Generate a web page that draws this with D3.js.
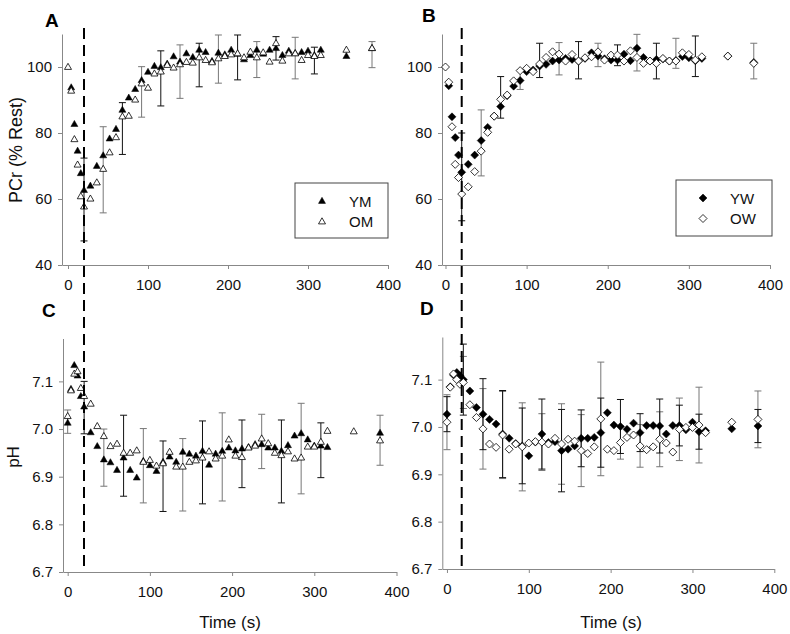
<!DOCTYPE html>
<html><head><meta charset="utf-8">
<script src="https://cdn.jsdelivr.net/npm/d3@7"></script>
<style>body{margin:0;background:#fff}svg{display:block}</style>
</head><body><svg id="chart" width="790" height="634"></svg>
<script>
// ---------- DATA ----------
const T = [0,4,8,12,16,20,28,36,44,52,60,68,76,84,92,100,108,116,124,132,140,148,156,164,172,180,188,196,204,212,220,228,236,244,252,260,268,276,284,292,300,308,316,348,380];
const timeTicks = [0,100,200,300,400];
const pcrTicks = [40,60,80,100];
const phTicks = [6.7,6.8,6.9,7.0,7.1];

const pcrYM = [null,93.8,82.7,74.6,67.8,62.7,64.0,70.0,73.2,78.3,81.2,87.0,90.7,93.3,96.0,98.5,100.3,99.9,101.0,103.2,101.6,104.1,103.0,105.2,104.5,101.8,104.3,103.8,105.2,104.0,102.3,103.6,105.2,104.0,105.2,105.7,103.6,104.9,104.2,104.5,104.9,103.6,105.2,103.3,105.7];
const pcrOM = [100,92.8,78.1,70.4,60.8,57.7,60.1,65.0,69.1,74.1,78.7,85.0,85.2,90.1,95.0,93.7,98.0,98.6,100.6,99.8,100.8,101.5,101.3,102.9,102.1,101.4,102.6,103.3,103.8,104.1,102.9,104.6,102.9,104.4,101.6,107.2,101.9,104.1,104.1,102.1,103.6,103.3,103.6,105.2,105.7];
const pcrYW = [null,94.3,84.9,78.6,73.3,68.1,70.5,73.3,77.7,81.7,85.1,88.0,91.3,94.2,95.9,98.6,99.1,100.3,100.8,101.8,102.1,102.6,102.3,101.8,102.6,104.3,103.3,102.5,102.1,102.1,103.9,101.9,105.7,102.9,101.8,102.3,102.4,101.8,102.0,103.2,102.8,101.9,102.6,103.3,101.4];
const pcrOW = [100,95.4,81.9,70.5,66.5,61.5,63.7,68.3,74.5,80.2,85.1,90.2,91.5,95.8,98.9,99.6,98.6,100.9,102.9,104.6,103.9,101.8,103.8,101.8,102.8,103.1,104.6,102.1,103.6,103.6,101.8,104.9,102.9,101.1,101.8,101.1,102.6,101.8,101.8,104.3,103.8,102.1,103.1,103.3,101.1];
const phYM = [7.013,7.084,7.134,7.112,7.069,7.047,6.993,6.964,6.936,6.930,6.914,6.940,6.914,6.898,6.933,6.924,6.912,6.931,6.942,6.931,6.952,6.948,6.944,6.954,6.925,6.948,6.954,6.961,6.955,6.959,6.962,6.968,6.968,6.961,6.961,6.954,6.966,6.986,6.991,6.978,6.965,6.965,6.962,null,6.992];
const phOM = [7.027,7.081,7.116,7.121,7.086,7.069,7.053,7.006,6.985,6.964,6.969,6.950,6.950,6.955,6.931,6.935,6.923,6.928,6.952,6.921,6.921,6.931,6.934,6.940,6.953,6.938,6.944,6.978,6.944,6.941,6.961,6.965,6.980,6.970,6.950,6.945,6.953,6.938,6.940,6.963,6.963,6.973,6.996,6.995,6.976];
const phYW = [7.027,7.085,7.110,7.115,7.108,7.100,7.076,7.041,7.027,7.016,7.006,6.985,6.976,6.965,6.960,6.939,6.968,6.985,6.967,6.969,6.950,6.953,6.960,6.976,6.976,6.978,6.988,7.030,7.004,7.001,6.995,7.008,6.988,7.003,7.003,7.002,6.985,7.003,7.003,6.994,7.010,6.990,6.992,6.996,7.002];
const phOW = [7.010,7.084,7.112,7.100,7.090,7.094,7.047,7.020,6.996,6.964,6.957,6.983,6.953,6.964,6.958,6.966,6.969,6.968,6.964,6.976,6.964,6.974,6.970,6.950,6.944,6.958,7.017,6.953,6.950,6.967,6.978,6.983,6.960,6.952,6.958,6.974,6.966,6.947,6.995,6.999,6.999,7.004,6.988,7.010,7.016];

// error bars (panels A, B, C: one bar per time, low/high ends)
const errT_AB = [20,44,68,92,116,140,164,188,212,236,260,284,308,380];
const errA_lo = [47.3,55.8,73.5,84.8,88.2,90.5,94.0,95.1,96.1,96.8,102.1,96.4,97.9,99.8];
const errA_hi = [72.4,81.9,89.2,100.1,104.9,106.7,107.2,109.7,109.7,107.7,109.2,109.0,106.0,107.7];
const errB_lo = [53.4,67.0,84.5,93.2,96.8,97.6,96.4,100.1,100.4,98.8,96.4,99.6,97.1,96.4];
const errB_hi = [80.0,87.0,97.1,99.1,107.2,107.4,107.7,107.2,106.7,109.9,107.2,108.7,109.4,107.2];
const errT_CD = [0,20,44,68,92,116,140,164,188,212,236,260,284,308,380];
const errC_lo = [6.991,6.990,6.880,6.859,6.845,6.827,6.828,6.843,6.849,6.877,6.917,6.845,6.864,6.898,6.924];
const errC_hi = [7.040,7.100,7.000,7.029,7.001,6.975,6.980,7.017,7.034,7.019,7.031,7.019,7.054,7.013,7.029];
// panel D: symmetric SD bars for each group
const sdYW_D = [0.037,0.075,0.075,0.092,0.080,0.074,0.087,0.060,0.073,0.057,0.040,0.057,0.043,0.037,0.035];
const sdOW_D = [0.058,0.055,0.085,0.092,0.093,0.060,0.085,0.076,0.120,0.035,0.045,0.058,0.066,0.080,0.060];

const exerciseEnd = 20;

// ---------- DRAWING ----------
const F = 'Arial, "Liberation Sans", sans-serif';
const svg = d3.select("#chart");
const TRI = "M0,-3.7L3.5,2.4L-3.5,2.4Z";
const DIA = "M0,-4L4,0L0,4L-4,0Z";

function panel(o) {
  const x = d3.scaleLinear().domain(o.xd).range(o.xr);
  const y = d3.scaleLinear().domain(o.yd).range(o.yr);
  const g = svg.append("g");
  const ax = g.append("g").attr("transform", `translate(0,${o.yr[0]})`)
    .call(d3.axisBottom(x).tickValues(timeTicks).tickSize(4).tickSizeOuter(0).tickPadding(10));
  const ay = g.append("g").attr("transform", `translate(${o.xr[0]},0)`)
    .call(d3.axisLeft(y).tickValues(o.yticks).tickFormat(o.fmt).tickSize(4).tickSizeOuter(0).tickPadding(6));
  [ax, ay].forEach(a => {
    a.select(".domain").attr("stroke", "#888");
    a.selectAll(".tick line").attr("stroke", "#888");
    a.selectAll("text").attr("font-size", 15).attr("font-family", F).attr("fill", "#111");
  });
  return { x, y, g };
}

function bar(p, t, lo, hi, color) {
  const xp = p.x(t), y1 = p.y(lo), y2 = p.y(hi);
  p.g.append("line").attr("x1", xp).attr("x2", xp).attr("y1", y1).attr("y2", y2)
    .attr("stroke", color).attr("stroke-width", 1);
  [y1, y2].forEach(yy => p.g.append("line").attr("x1", xp - 3.5).attr("x2", xp + 3.5)
    .attr("y1", yy).attr("y2", yy).attr("stroke", color).attr("stroke-width", 1));
}

function points(p, vals, shape, filled) {
  p.g.append("g").selectAll("path")
    .data(T.map((t, i) => [t, vals[i]]).filter(d => d[1] != null))
    .join("path").attr("d", shape)
    .attr("transform", d => `translate(${p.x(d[0])},${p.y(d[1])})`)
    .attr("fill", filled ? "#000" : "#fff").attr("stroke", "#000")
    .attr("stroke-width", filled ? 0.5 : 0.8);
}

const pA = panel({ xd: [-7.5, 400], xr: [62, 388], yd: [40, 110], yr: [265, 34], yticks: pcrTicks, fmt: d3.format("d") });
const pB = panel({ xd: [-4.3, 400], xr: [442, 770], yd: [40, 110], yr: [265, 34], yticks: pcrTicks, fmt: d3.format("d") });
const pC = panel({ xd: [-5.7, 400], xr: [63, 396.5], yd: [6.7, 7.19], yr: [572, 338.5], yticks: phTicks, fmt: d3.format(".1f") });
const pD = panel({ xd: [-5.7, 400], xr: [442.3, 774.3], yd: [6.7, 7.19], yr: [569, 337], yticks: phTicks, fmt: d3.format(".1f") });

// error bars
errT_AB.forEach((t, i) => bar(pA, t, errA_lo[i], errA_hi[i], i % 2 ? "#777" : "#111"));
errT_AB.forEach((t, i) => bar(pB, t, errB_lo[i], errB_hi[i], i % 2 ? "#777" : "#111"));
errT_CD.forEach((t, i) => bar(pC, t, errC_lo[i], errC_hi[i], i % 2 ? "#111" : "#777"));
errT_CD.forEach((t, i) => {
  const k = T.indexOf(t);
  bar(pD, t, phOW[k] - sdOW_D[i], phOW[k] + sdOW_D[i], "#777");
  bar(pD, t, phYW[k] - sdYW_D[i], phYW[k] + sdYW_D[i], "#111");
});

// dashed end-of-exercise lines
[[pA, 28, 572], [pB, 28, 569]].forEach(([p, y1, y2]) => {
  svg.append("line").attr("x1", p.x(exerciseEnd)).attr("x2", p.x(exerciseEnd))
    .attr("y1", y1).attr("y2", y2).attr("stroke", "#000").attr("stroke-width", 2)
    .attr("stroke-dasharray", "11,6");
});

// markers
points(pA, pcrYM, TRI, true); points(pA, pcrOM, TRI, false);
points(pB, pcrYW, DIA, true); points(pB, pcrOW, DIA, false);
points(pC, phYM, TRI, true); points(pC, phOM, TRI, false);
points(pD, phYW, DIA, true); points(pD, phOW, DIA, false);

// legends
function legend(x0, y0, w, h, shape, labels) {
  const g = svg.append("g");
  g.append("rect").attr("x", x0).attr("y", y0).attr("width", w).attr("height", h)
    .attr("fill", "#fff").attr("stroke", "#444").attr("stroke-width", 1);
  labels.forEach((lab, i) => {
    const yy = y0 + 18 + i * 20.5;
    g.append("path").attr("d", shape).attr("transform", `translate(${x0 + 27},${yy})`)
      .attr("fill", i === 0 ? "#000" : "#fff").attr("stroke", "#000").attr("stroke-width", i === 0 ? 0.5 : 0.8);
    g.append("text").attr("x", x0 + 54).attr("y", yy + 5.5).attr("font-family", F)
      .attr("font-size", 15).attr("fill", "#111").text(lab);
  });
}
legend(295, 183, 93, 55, TRI, ["YM", "OM"]);
legend(676, 180, 96, 56, DIA, ["YW", "OW"]);

// panel letters
[["A", 45, 27], ["B", 422, 22], ["C", 42, 317], ["D", 420, 315]].forEach(([s, x, y]) =>
  svg.append("text").attr("x", x).attr("y", y).attr("font-family", F).attr("font-weight", "bold")
    .attr("font-size", 19).attr("fill", "#000").text(s));

// axis titles
svg.append("text").attr("transform", "translate(22,150) rotate(-90)").attr("text-anchor", "middle")
  .attr("font-family", F).attr("font-size", 18).attr("fill", "#111").text("PCr (% Rest)");
svg.append("text").attr("transform", "translate(19,457) rotate(-90)").attr("text-anchor", "middle")
  .attr("font-family", F).attr("font-size", 17).attr("fill", "#111").text("pH");
svg.append("text").attr("x", 230).attr("y", 628).attr("text-anchor", "middle")
  .attr("font-family", F).attr("font-size", 17).attr("fill", "#111").text("Time (s)");
svg.append("text").attr("x", 611).attr("y", 628).attr("text-anchor", "middle")
  .attr("font-family", F).attr("font-size", 17).attr("fill", "#111").text("Time (s)");
</script>
</body></html>
